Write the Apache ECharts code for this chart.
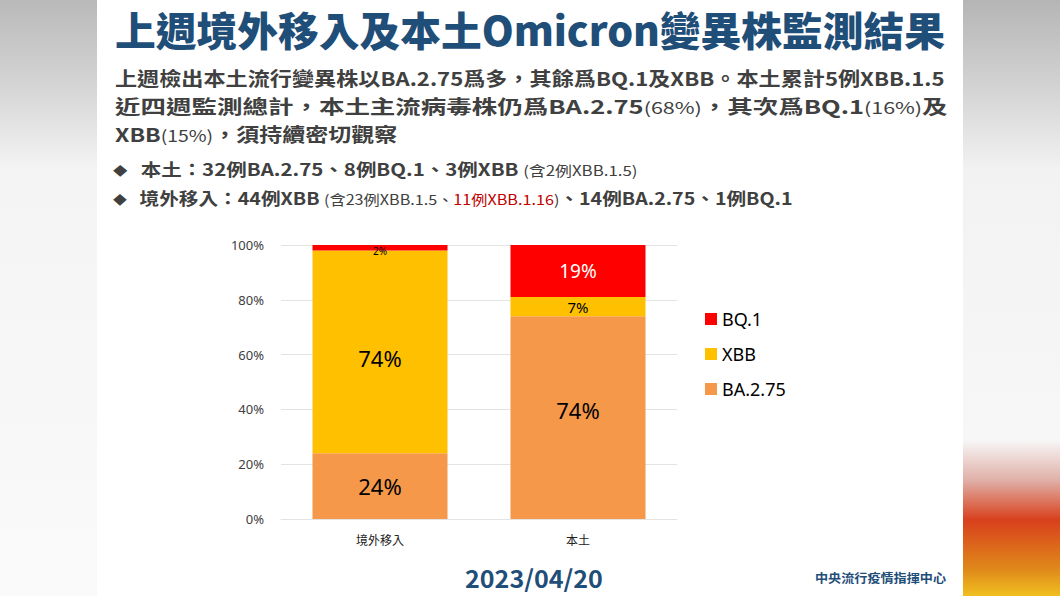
<!DOCTYPE html>
<html>
<head>
<meta charset="utf-8">
<script src="https://cdn.jsdelivr.net/npm/echarts@6/dist/echarts.min.js"></script>
<style>
  html, body { margin: 0; padding: 0; width: 1060px; height: 596px; overflow: hidden; }
  body { position: relative; font-family: "Noto Sans CJK TC", "Noto Sans", sans-serif; background: #fff; }
  .side { position: absolute; top: 0; height: 596px; width: 97px; }
  #sideL { left: 0; background: linear-gradient(to bottom, #b9b9b9 0px, #d6d6d6 90px, #f4f4f4 170px, #fafafa 596px); }
  #sideR { right: 0; width: 98px; background: linear-gradient(to bottom, #b5b5b5 0px, #d4d4d4 90px, #f2f2f2 170px, #f7f7f7 440px, #e0b0a8 480px, #d8401c 520px, #e08a1a 570px, #f0c020 596px); }
  #slide { position: absolute; left: 97px; top: 0; width: 866px; height: 596px; background: #fff; }
  .ln { position: absolute; white-space: nowrap; transform-origin: 0 50%; line-height: 1; }
  #title { font-size: 40px; font-weight: 900; color: #1f4e79; }
  .sub { font-size: 19px; font-weight: 700; color: #404040; }
  .sub .s { font-size: 16px; font-weight: 400; }
  .bul { font-size: 17px; font-weight: 700; color: #404040; }
  .bul .s { font-size: 14px; font-weight: 400; }
  .bul .r { color: #c00000; }
  .dia { font-size: 12px; display: inline-block; width: 23px; }
  #date { font-size: 24px; font-weight: 700; color: #1f4e79; }
  #src { font-size: 12px; font-weight: 700; color: #1f4e79; }
  #chart { position: absolute; left: 0; top: 0; width: 1060px; height: 596px; }
</style>
</head>
<body>
<div id="sideL" class="side"></div>
<div id="sideR" class="side"></div>
<div id="slide"></div>

<div id="title" class="ln">上週境外移入及本土Omicron變異株監測結果</div>
<div id="l1" class="ln sub">上週檢出本土流行變異株以BA.2.75爲多，其餘爲BQ.1及XBB。本土累計5例XBB.1.5</div>
<div id="l2" class="ln sub">近四週監測總計，本土主流病毒株仍爲BA.2.75<span class="s">(68%)</span>，其次爲BQ.1<span class="s">(16%)</span>及</div>
<div id="l3" class="ln sub">XBB<span class="s">(15%)</span>，須持續密切觀察</div>
<div id="b1" class="ln bul"><span class="dia">◆</span>本土：32例BA.2.75、8例BQ.1、3例XBB <span class="s">(含2例XBB.1.5)</span></div>
<div id="b2" class="ln bul"><span class="dia">◆</span>境外移入：44例XBB <span class="s">(含23例XBB.1.5、<span class="r">11例XBB.1.16</span>)</span>、14例BA.2.75、1例BQ.1</div>
<div id="date" class="ln">2023/04/20</div>
<div id="src" class="ln">中央流行疫情指揮中心</div>

<div id="chart"></div>

<script>
// chart data (percent of sequenced cases)
var categories = ['境外移入', '本土'];
var seriesNames = ['BA.2.75', 'XBB', 'BQ.1'];
var ba275 = [24, 74];
var xbb = [74, 7];
var bq1 = [2, 19];
var legendOrder = ['BQ.1', 'XBB', 'BA.2.75'];

// place a text line: left x, centre y, target width
function place(id, x, cy, w) {
  var el = document.getElementById(id);
  var r = el.getBoundingClientRect();
  var sx = w ? w / el.scrollWidth : 1;
  el.style.left = x + 'px';
  el.style.top = (cy - r.height / 2) + 'px';
  el.style.transform = 'scaleX(' + sx + ')';
}
place('title', 115, 29, 830);
place('l1', 115, 77, 830);
place('l2', 115, 105, 833);
place('l3', 115, 133, 282);
place('b1', 113, 168, 525);
place('b2', 113, 197, 679);
place('date', 465, 578, 138);
place('src', 815, 578, 131);

var colors = { 'BA.2.75': '#f59849', 'XBB': '#ffc000', 'BQ.1': '#ff0000' };
// label look per series / category
var labelStyle = {
  'BA.2.75': [{ fontSize: 22, color: '#000' }, { fontSize: 22, color: '#000', offset: [0, -8] }],
  'XBB': [{ fontSize: 22, color: '#000', offset: [0, 6] }, { fontSize: 15, color: '#000' }],
  'BQ.1': [{ fontSize: 10, color: '#000', offset: [0, 3] }, { fontSize: 19, color: '#fff' }]
};

function buildData(name, values) {
  return values.map(function (v, i) {
    var ls = labelStyle[name][i];
    return {
      value: v,
      label: { fontSize: ls.fontSize, color: ls.color, offset: ls.offset || [0, 0] }
    };
  });
}

var valueMap = { 'BA.2.75': ba275, 'XBB': xbb, 'BQ.1': bq1 };

var series = seriesNames.map(function (name) {
  return {
    name: name,
    type: 'bar',
    stack: 'total',
    barWidth: 135,
    itemStyle: { color: colors[name] },
    label: {
      show: true,
      position: 'inside',
      formatter: '{c}%',
      fontFamily: 'Noto Sans',
      fontWeight: 'normal'
    },
    emphasis: { disabled: true },
    data: buildData(name, valueMap[name])
  };
});

var myChart = echarts.init(document.getElementById('chart'), null, { renderer: 'svg' });
var option = {
  animation: false,
  backgroundColor: 'transparent',
  textStyle: { fontFamily: 'Noto Sans CJK TC' },
  grid: { left: 281, right: 383, top: 245, bottom: 77 },
  legend: {
    data: legendOrder,
    orient: 'vertical',
    left: 700,
    top: 305,
    itemWidth: 12,
    itemHeight: 12,
    itemGap: 17,
    icon: 'rect',
    textStyle: { fontSize: 18, color: '#000', fontFamily: 'Noto Sans' }
  },
  xAxis: {
    type: 'category',
    data: categories,
    axisLine: { show: true, lineStyle: { color: '#e3e3e3' } },
    axisTick: { show: false },
    axisLabel: { fontSize: 12, color: '#222', margin: 14 }
  },
  yAxis: {
    type: 'value',
    min: 0,
    max: 100,
    interval: 20,
    axisLine: { show: false },
    axisTick: { show: false },
    splitLine: { lineStyle: { color: '#e3e3e3' } },
    axisLabel: { formatter: '{value}%', fontSize: 13, color: '#404040', margin: 17, fontFamily: 'Noto Sans' }
  },
  series: series
};
myChart.setOption(option);
</script>
</body>
</html>
